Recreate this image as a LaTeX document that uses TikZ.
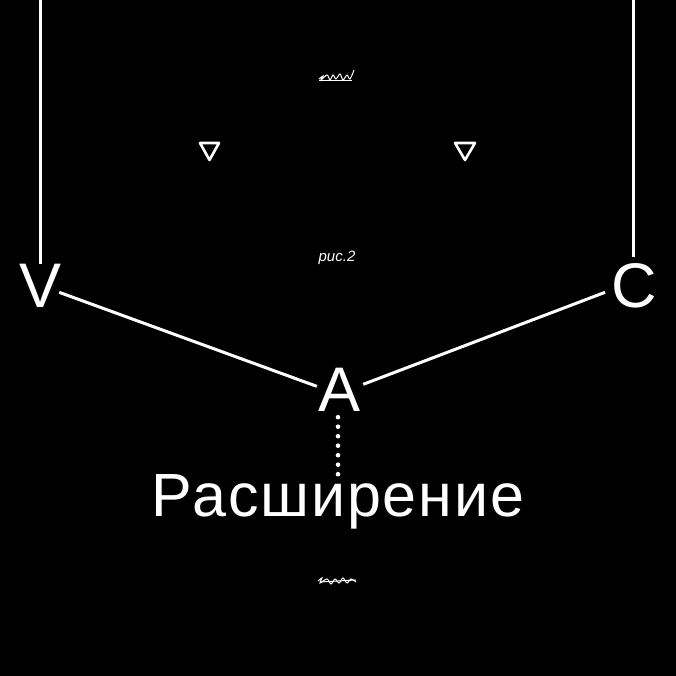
\documentclass[tikz,border=0pt]{standalone}
\usepackage{fontspec}
\setmainfont{Liberation Sans}
\usetikzlibrary{positioning}

\begin{document}
\begin{tikzpicture}[x=1pt,y=1pt,
    letter/.style={text=white,inner sep=0pt,anchor=base,font=\fontsize{63}{63}\selectfont},
    wire/.style={draw=white,line width=3pt},
    dots/.style={draw=white,line width=4.6pt,line cap=round,dash pattern=on 0pt off 9.5pt},
    tri/.style={draw=white,line width=2.6pt,line join=round},
    scribble/.style={draw=white,line width=1pt}]
    \fill[black] (0,0) rectangle (676,676);
    \useasboundingbox (0,0) rectangle (676,676);

    \node[letter] (V) at (41,368) {V};
    \node[letter] (C) at (634,368) {C};
    \node[letter] (A) at (340,264) {A};
    \node[letter,font=\addfontfeatures{LetterSpace=3}\fontsize{61}{61}\selectfont] (word) at (338,159) {Расширение};
    \node[text=white,inner sep=0pt,anchor=base,font=\fontsize{15}{15}\itshape] (fig) at (337,414) {рис.2};

    \coordinate (vtop) at (40,676);
    \coordinate (ctop) at (633,676);

    \draw[wire] (vtop) -- (vtop |- V.north);
    \draw[wire,shorten >=7pt] (ctop) -- (ctop |- C.north);
    \draw[wire] ([xshift=-3pt,yshift=-6pt]V.east) -- ([xshift=-2pt,yshift=4pt]A.west);
    \draw[wire] ([xshift=2pt,yshift=6pt]A.east) -- ([xshift=-6pt,yshift=-6pt]C.west);
    \draw[dots] ([xshift=-2pt,yshift=-5pt]A.south) -- ([yshift=-7.2pt]word.north);

    % triangles
    \draw[tri] (200,533) -- (219,533) -- (209.5,516) -- cycle;
    \draw[tri] (455,533) -- (475,533) -- (465,516) -- cycle;

    % scribbles
    \draw[scribble] plot[smooth] coordinates {(319,597) (323,600) (321,596) (327,601) (330,596) (333,601) (336,597) (340,602) (343,596) (347,601) (350,597) (354,606)};
    \draw[scribble] (319,595) -- (352,595);
    \draw[scribble] plot[smooth] coordinates {(318,95) (322,98) (320,93) (327,97) (331,92) (335,97) (339,93) (343,98) (347,93) (351,97) (356,94)};
    \draw[scribble] (320,94) -- (356,96);
\end{tikzpicture}
\end{document}
